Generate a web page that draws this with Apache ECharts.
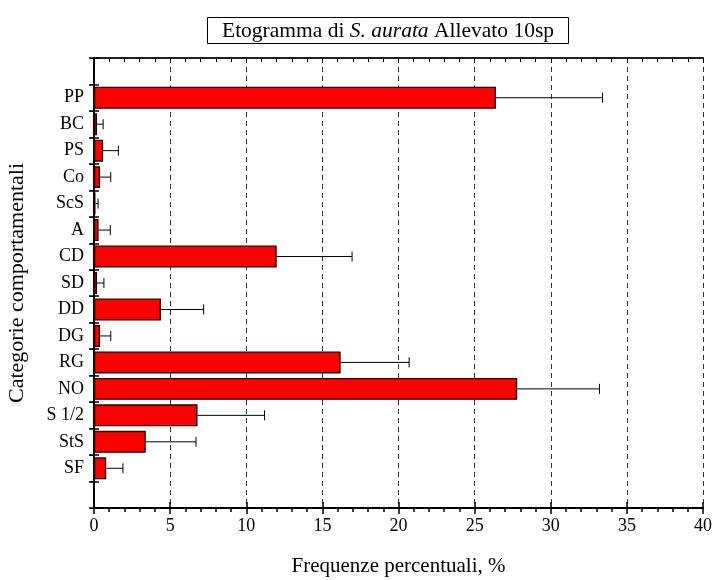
<!DOCTYPE html>
<html>
<head>
<meta charset="utf-8">
<title>Etogramma di S. aurata Allevato 10sp</title>
<script src="https://cdn.jsdelivr.net/npm/echarts@6/dist/echarts.min.js"></script>
<style>
  html, body { margin: 0; padding: 0; background: #fff; }
  #chart { width: 712px; height: 580px; }
</style>
</head>
<body>
<div id="chart"></div>
<script>
// Behaviour categories, top to bottom (blank slots pad the ends of the axis)
var categories = ['', 'PP', 'BC', 'PS', 'Co', 'ScS', 'A', 'CD', 'SD', 'DD', 'DG', 'RG', 'NO', 'S 1/2', 'StS', 'SF', ''];
// Mean percentage frequency per category
var means = [null, 26.4, 0.2, 0.6, 0.4, 0.1, 0.3, 12.0, 0.2, 4.4, 0.4, 16.2, 27.8, 6.8, 3.4, 0.8, null];
// Standard deviation per category (drawn to the right of each bar)
var errors = [null, 7.0, 0.4, 1.0, 0.7, 0.17, 0.77, 4.95, 0.45, 2.8, 0.7, 4.5, 5.4, 4.4, 3.3, 1.1, null];
var xTicks = { min: 0, max: 40, interval: 5 };

var serif = '"Liberation Serif", "DejaVu Serif", serif';

var barData = means.map(function (v) { return v == null ? '-' : v; });
var errData = [];
means.forEach(function (v, i) {
  if (v != null) errData.push([i, v, errors[i]]);
});

var chart = echarts.init(document.getElementById('chart'), null, { renderer: 'canvas' });

var option = {
  animation: false,
  backgroundColor: '#fff',
  title: {
    text: '{n|Etogramma di }{i|S. aurata}{n| Allevato 10sp}',
    left: 207,
    top: 17,
    padding: [3, 15, 2, 15],
    borderColor: '#000',
    borderWidth: 1,
    textStyle: {
      rich: {
        n: { fontFamily: serif, fontSize: 21.5, fontWeight: 'normal', color: '#000' },
        i: { fontFamily: serif, fontSize: 21.5, fontWeight: 'normal', fontStyle: 'italic', color: '#000' }
      }
    }
  },
  grid: { left: 94, right: 9, top: 58, bottom: 72, containLabel: false, outerBoundsMode: 'none' },
  xAxis: [
    {
      type: 'value', position: 'bottom',
      min: xTicks.min, max: xTicks.max, interval: xTicks.interval,
      name: 'Frequenze percentuali, %',
      nameLocation: 'middle', nameGap: 48,
      nameTextStyle: { fontFamily: serif, fontSize: 21, color: '#000' },
      axisLine: { show: true, lineStyle: { color: '#000', width: 2 } },
      axisTick: { show: true, length: 6, inside: false, lineStyle: { color: '#000', width: 1.5 } },
      minorTick: { show: true, splitNumber: 5, length: 4, lineStyle: { color: '#000', width: 1.5 } },
      axisLabel: { fontFamily: serif, fontSize: 18, color: '#000', margin: 9 },
      splitLine: { show: true, lineStyle: { color: '#333', type: [5, 4], width: 1 } }
    },
    {
      // inner half of the major ticks on the bottom edge
      type: 'value', position: 'bottom',
      min: xTicks.min, max: xTicks.max, interval: xTicks.interval,
      axisLine: { show: false },
      axisTick: { show: true, inside: true, length: 6, lineStyle: { color: '#000', width: 1.5 } },
      axisLabel: { show: false },
      splitLine: { show: false }
    },
    {
      type: 'value', position: 'top',
      min: xTicks.min, max: xTicks.max, interval: xTicks.interval,
      axisLine: { show: true, lineStyle: { color: '#222', width: 2 } },
      axisTick: { show: true, inside: true, length: 5, lineStyle: { color: '#000', width: 1 } },
      minorTick: { show: true, splitNumber: 5, length: 4, lineStyle: { color: '#000', width: 1 } },
      axisLabel: { show: false },
      splitLine: { show: false }
    }
  ],
  yAxis: [
    {
      type: 'category', position: 'left', inverse: true,
      data: categories,
      name: 'Categorie comportamentali',
      nameLocation: 'middle', nameGap: 66,
      nameTextStyle: { fontFamily: serif, fontSize: 22, color: '#000' },
      axisLine: { show: true, lineStyle: { color: '#000', width: 2 } },
      axisTick: { show: true, length: 5, lineStyle: { color: '#000', width: 1.5 } },
      axisLabel: { fontFamily: serif, fontSize: 18, color: '#000', margin: 10 },
      splitLine: { show: false }
    },
    {
      // inner half of the left-edge ticks
      type: 'category', position: 'left', inverse: true,
      data: categories,
      axisLine: { show: false },
      axisTick: { show: true, inside: true, length: 5, lineStyle: { color: '#000', width: 1.5 } },
      axisLabel: { show: false },
      splitLine: { show: false }
    },
    {
      type: 'category', position: 'right', inverse: true,
      data: categories,
      axisLine: { show: true, lineStyle: { color: '#000', width: 2 } },
      axisTick: { show: true, inside: true, length: 4, lineStyle: { color: '#000', width: 1 } },
      axisLabel: { show: false },
      splitLine: { show: false }
    }
  ],
  series: [
    {
      type: 'bar',
      xAxisIndex: 0, yAxisIndex: 0,
      data: barData,
      barCategoryGap: '17%',
      itemStyle: { color: '#ff0000', borderColor: '#200', borderWidth: 1.3 },
      z: 3
    },
    {
      // standard deviation whiskers: line from the bar end with a cap at the tip
      type: 'custom',
      xAxisIndex: 0, yAxisIndex: 0,
      data: errData,
      z: 4,
      renderItem: function (params, api) {
        var cat = api.value(0);
        var mean = api.value(1);
        var err = api.value(2);
        var start = api.coord([mean, cat]);
        var end = api.coord([mean + err, cat]);
        var cap = 5;
        var style = { stroke: '#000', lineWidth: 1 };
        return {
          type: 'group',
          children: [
            { type: 'line', shape: { x1: start[0], y1: start[1], x2: end[0], y2: end[1] }, style: style },
            { type: 'line', shape: { x1: end[0], y1: end[1] - cap, x2: end[0], y2: end[1] + cap }, style: style }
          ]
        };
      },
      encode: { x: [1], y: 0 }
    }
  ]
};

chart.setOption(option);
</script>
</body>
</html>
